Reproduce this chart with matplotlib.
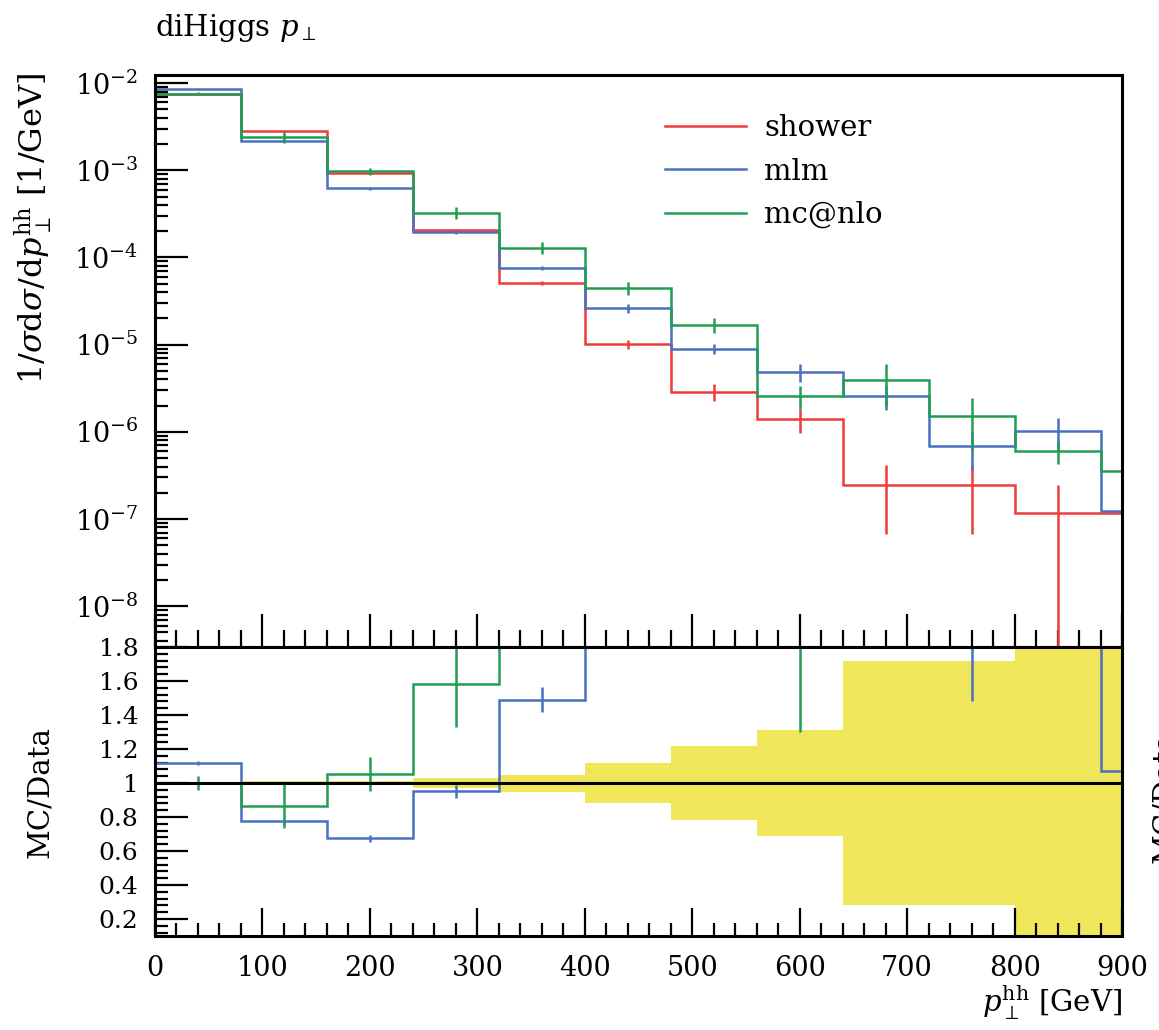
import numpy as np
import matplotlib
matplotlib.use("Agg")
import matplotlib.pyplot as plt
from matplotlib.lines import Line2D
from matplotlib.ticker import MultipleLocator, LogLocator, FuncFormatter, NullFormatter

# bin edges in GeV (last bin is cut by the axis range)
edges = [0, 80, 160, 240, 320, 400, 480, 560, 640, 720, 800, 880, 960]

# 1/sigma dsigma/dpT [1/GeV]
shower = [7.6e-3, 2.8e-3, 9.2e-4, 2.05e-4, 5.1e-5, 1.02e-5, 2.9e-6, 1.4e-6, 2.43e-7, 2.43e-7, 1.17e-7, 1.16e-7]
mlm = [8.5e-3, 2.17e-3, 6.2e-4, 1.95e-4, 7.6e-5, 2.6e-5, 9.0e-6, 4.9e-6, 2.56e-6, 6.8e-7, 1.02e-6, 1.24e-7]
mcnlo = [7.6e-3, 2.42e-3, 9.7e-4, 3.25e-4, 1.3e-4, 4.5e-5, 1.7e-5, 2.6e-6, 3.95e-6, 1.53e-6, 6.1e-7, 3.6e-7]

# relative uncertainties per bin
shower_err = [0.008, 0.01, 0.012, 0.03, 0.05, 0.115, 0.22, 0.31, 0.72, 0.72, 1.1, 1.1]
mlm_err = [0.01, 0.02, 0.03, 0.04, 0.05, 0.12, 0.13, 0.23, 0.3, 0.47, 0.42, 0.5]
mcnlo_err = [0.04, 0.15, 0.095, 0.16, 0.15, 0.17, 0.2, 0.3, 0.5, 0.6, 0.3, 0.4]

labels = ["shower", "mlm", "mc@nlo"]
colors = ["#ee3b3b", "#4a70c0", "#1f9e52"]
band_color = "#f0e65a"

plt.rcParams["font.family"] = ["DejaVu Serif"]
plt.rcParams["mathtext.fontset"] = "dejavuserif"
plt.rcParams["axes.linewidth"] = 2.2

fig = plt.figure(figsize=(11.59, 10.30), dpi=100)
ax = fig.add_axes([0.1337, 0.3718, 0.8344, 0.5554])
rax = fig.add_axes([0.1337, 0.0913, 0.8344, 0.2805], sharex=ax)

e = np.array(edges, float)
centers = 0.5 * (e[:-1] + e[1:])
series = [(shower, shower_err), (mlm, mlm_err), (mcnlo, mcnlo_err)]
ref = np.array(shower)
ref_rel = np.array(shower_err)

# ------------------------------------------------------------------
# main panel
# ------------------------------------------------------------------
for (vals, rel), c in zip(series, colors):
    v = np.array(vals)
    r = np.array(rel)
    ax.stairs(v, e, baseline=None, color=c, lw=1.8)
    lo = np.clip(v * (1 - r), 1e-12, None)
    ax.vlines(centers, lo, v * (1 + r), color=c, lw=1.8)

ax.set_yscale("log")
ax.set_xlim(0, 900)
ax.set_ylim(3.4e-9, 1.24e-2)
ax.yaxis.set_major_locator(LogLocator(base=10, numticks=20))
ax.yaxis.set_minor_locator(LogLocator(base=10, subs=np.arange(2, 10), numticks=20))
ax.yaxis.set_minor_formatter(NullFormatter())
ax.xaxis.set_major_locator(MultipleLocator(100))
ax.xaxis.set_minor_locator(MultipleLocator(20))
ax.tick_params(which="both", direction="in", top=False, right=False, width=1.6,
               labelsize=19.5, labelbottom=False)
ax.tick_params(axis="y", which="major", length=24, pad=12)
ax.tick_params(axis="y", which="minor", length=9.5)
ax.tick_params(axis="x", which="major", length=24)
ax.tick_params(axis="x", which="minor", length=12)

handles = [Line2D([], [], color=c, lw=1.8) for c in colors]
ax.legend(handles, labels, loc="upper left", bbox_to_anchor=(0.527, 0.931),
          frameon=False, fontsize=21, handlelength=2.8, handletextpad=0.62,
          labelspacing=0.52, borderpad=0, borderaxespad=0)

# ------------------------------------------------------------------
# ratio panel
# ------------------------------------------------------------------
band_lo = np.append(1 - ref_rel, 1 - ref_rel[-1])
band_hi = np.append(1 + ref_rel, 1 + ref_rel[-1])
rax.fill_between(e, band_lo, band_hi, step="post", color=band_color, lw=0, zorder=1)
rax.axhline(1, color="black", lw=2.2, zorder=3)
for (vals, rel), c in zip(series[1:], colors[1:]):
    v = np.array(vals)
    r = np.array(rel)
    ratio = v / ref
    rax.stairs(ratio, e, baseline=None, color=c, lw=1.8, zorder=2)
    rax.vlines(centers, ratio * (1 - r), ratio * (1 + r), color=c, lw=1.8, zorder=2)

rax.set_ylim(0.1, 1.8)
rax.yaxis.set_major_locator(MultipleLocator(0.2))
rax.yaxis.set_minor_locator(MultipleLocator(0.04))
rax.yaxis.set_major_formatter(FuncFormatter(lambda v, p: f"{v:g}"))
rax.xaxis.set_major_formatter(FuncFormatter(lambda v, p: f"{v:g}"))
rax.tick_params(which="both", direction="in", top=False, right=False, width=1.6)
rax.tick_params(axis="y", which="major", length=24, pad=12, labelsize=18)
rax.tick_params(axis="y", which="minor", length=9.5)
rax.tick_params(axis="x", which="major", length=20, pad=14, labelsize=19.5)
rax.tick_params(axis="x", which="minor", length=9.5)

# ------------------------------------------------------------------
# texts
# ------------------------------------------------------------------
fig.text(0.1337, 1 - 36 / 1030, r"diHiggs $p_\perp$", fontsize=21, ha="left", va="baseline")
fig.text(33 / 1159, 1 - 228 / 1030,
         r"$1/\sigma\mathrm{d}\sigma/\mathrm{d}p_\perp^\mathrm{hh}$ [1/GeV]",
         fontsize=23, rotation=90, ha="center", va="center")
fig.text(40 / 1159, 1 - 792 / 1030, "MC/Data", fontsize=21, rotation=90,
         ha="center", va="center")
fig.text(1151 / 1159, 1 - 797 / 1030, "MC/Data", fontsize=21, rotation=90,
         ha="left", va="center")
fig.text(1122 / 1159, 1 - 1003 / 1030, r"$p_\perp^\mathrm{hh}$ [GeV]", fontsize=21,
         ha="right", va="center")

fig.savefig("out.png", dpi=100)
